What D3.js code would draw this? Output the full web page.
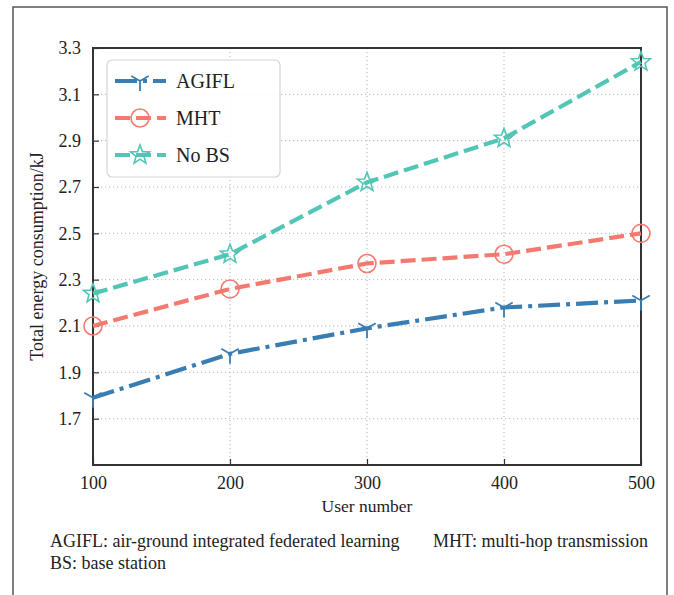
<!DOCTYPE html>
<html>
<head>
<meta charset="utf-8">
<script src="https://cdn.jsdelivr.net/npm/d3@7"></script>
<style>
  body { margin: 0; background: #fff; }
  svg text { font-family: "Liberation Serif", "Times New Roman", "DejaVu Serif", serif !important; fill: #222; }
</style>
</head>
<body>
<svg id="chart" width="674" height="595" font-family="Liberation Serif, serif"></svg>
<script>
const users = [100, 200, 300, 400, 500];
const agifl = [1.79, 1.98, 2.09, 2.18, 2.21];
const mht = [2.10, 2.26, 2.37, 2.41, 2.50];
const noBS = [2.24, 2.41, 2.72, 2.91, 3.24];
const seriesNames = ["AGIFL", "MHT", "No BS"];
const yTicks = [1.7, 1.9, 2.1, 2.3, 2.5, 2.7, 2.9, 3.1, 3.3];
const xTicks = [100, 200, 300, 400, 500];
const captionLines = [
  ["AGIFL: air-ground integrated federated learning", "MHT: multi-hop transmission"],
  ["BS: base station"]
];

const svg = d3.select("#chart");
const L = 93, R = 641, T = 48, B = 465;
const x = d3.scaleLinear().domain([100, 500]).range([L, R]);
const y = d3.scaleLinear().domain([1.5, 3.3]).range([B, T]);

// outer frame
svg.append("rect").attr("x", 13).attr("y", 7).attr("width", 654).attr("height", 620)
  .attr("fill", "none").attr("stroke", "#555").attr("stroke-width", 1.5);

// grid
const grid = svg.append("g");
grid.selectAll(".gx").data(xTicks.slice(1, -1)).join("line")
  .attr("x1", d => x(d)).attr("x2", d => x(d)).attr("y1", T).attr("y2", B)
  .attr("stroke", "#b5b5b5").attr("stroke-width", 1).attr("stroke-dasharray", "1.2,2.8");
grid.selectAll(".gy").data(yTicks.slice(0, -1)).join("line")
  .attr("y1", d => y(d)).attr("y2", d => y(d)).attr("x1", L).attr("x2", R)
  .attr("stroke", "#b5b5b5").attr("stroke-width", 1).attr("stroke-dasharray", "1.2,2.8");

// axes
const xAxis = d3.axisBottom(x).tickValues(xTicks).tickSizeInner(-6).tickSizeOuter(0).tickPadding(9).tickFormat(d3.format("d"));
const yAxis = d3.axisLeft(y).tickValues(yTicks).tickSizeInner(-6).tickSizeOuter(0).tickPadding(12).tickFormat(d3.format(".1f"));
const gx = svg.append("g").attr("transform", `translate(0,${B})`).call(xAxis);
const gy = svg.append("g").attr("transform", `translate(${L},0)`).call(yAxis);
[gx, gy].forEach(g => {
  g.attr("font-family", "Liberation Serif, serif");
  g.select(".domain").remove();
  g.selectAll(".tick line").attr("stroke", "#333").attr("stroke-width", 1.2);
  g.selectAll(".tick text").attr("font-size", 18).attr("fill", "#222");
});
gx.selectAll(".tick text").attr("dy", "0.85em");

// plot border
svg.append("rect").attr("x", L).attr("y", T).attr("width", R - L).attr("height", B - T)
  .attr("fill", "none").attr("stroke", "#333").attr("stroke-width", 2);

// axis titles
svg.append("text").attr("x", (L + R) / 2).attr("y", 512).attr("text-anchor", "middle")
  .attr("font-size", 17.5).text("User number");
svg.append("text").attr("transform", `translate(43,${(T + B) / 2}) rotate(-90)`)
  .attr("text-anchor", "middle").attr("font-size", 18).text("Total energy consumption/kJ");

// series
const series = [
  { name: seriesNames[0], values: agifl, color: "#3a7db3", dash: "22,6,4,6", marker: "tri" },
  { name: seriesNames[1], values: mht, color: "#f47a70", dash: "15,6", marker: "circle" },
  { name: seriesNames[2], values: noBS, color: "#52c6b6", dash: "15,6", marker: "star" }
];

const line = d3.line().x((d, i) => x(users[i])).y(d => y(d));
const starPath = (() => {
  const pts = [];
  for (let k = 0; k < 10; k++) {
    const r = k % 2 === 0 ? 10 : 4.2;
    const a = -Math.PI / 2 + k * Math.PI / 5;
    pts.push([r * Math.cos(a), r * Math.sin(a)]);
  }
  return "M" + pts.map(p => p.join(",")).join("L") + "Z";
})();
const triPath = "M0,0L0,10M0,0L-8.7,-5M0,0L8.7,-5";

function drawMarker(g, type, cx, cy, color) {
  if (type === "circle") {
    g.append("circle").attr("cx", cx).attr("cy", cy).attr("r", 9)
      .attr("fill", "none").attr("stroke", color).attr("stroke-width", 1.6);
  } else if (type === "star") {
    g.append("path").attr("d", starPath).attr("transform", `translate(${cx},${cy})`)
      .attr("fill", "none").attr("stroke", color).attr("stroke-width", 1.6).attr("stroke-linejoin", "miter");
  } else {
    g.append("path").attr("d", triPath).attr("transform", `translate(${cx},${cy})`)
      .attr("fill", "none").attr("stroke", color).attr("stroke-width", 1.8);
  }
}

const plotG = svg.append("g");
series.forEach(s => {
  plotG.append("path").datum(s.values).attr("d", line)
    .attr("fill", "none").attr("stroke", s.color).attr("stroke-width", 4.2)
    .attr("stroke-dasharray", s.dash);
  s.values.forEach((v, i) => drawMarker(plotG, s.marker, x(users[i]), y(v), s.color));
});

// legend
const lg = svg.append("g");
lg.append("rect").attr("x", 107).attr("y", 60).attr("width", 173).attr("height", 117).attr("rx", 5)
  .attr("fill", "#fff").attr("fill-opacity", 0.85).attr("stroke", "#d4d4d4").attr("stroke-width", 1.2);
const legendY = [81, 118, 155];
series.forEach((s, i) => {
  const ly = legendY[i];
  lg.append("line").attr("x1", 115).attr("x2", 166).attr("y1", ly).attr("y2", ly)
    .attr("stroke", s.color).attr("stroke-width", 4.2).attr("stroke-dasharray", s.dash);
  drawMarker(lg, s.marker, 140, ly, s.color);
  lg.append("text").attr("x", 176).attr("y", ly).attr("dy", "0.35em").attr("font-size", 20).text(s.name);
});

// caption
const cap = svg.append("g");
cap.append("text").attr("x", 50).attr("y", 547).attr("font-size", 18).text(captionLines[0][0]);
cap.append("text").attr("x", 433).attr("y", 547).attr("font-size", 18).text(captionLines[0][1]);
cap.append("text").attr("x", 50).attr("y", 569).attr("font-size", 18).text(captionLines[1][0]);
</script>
</body>
</html>
